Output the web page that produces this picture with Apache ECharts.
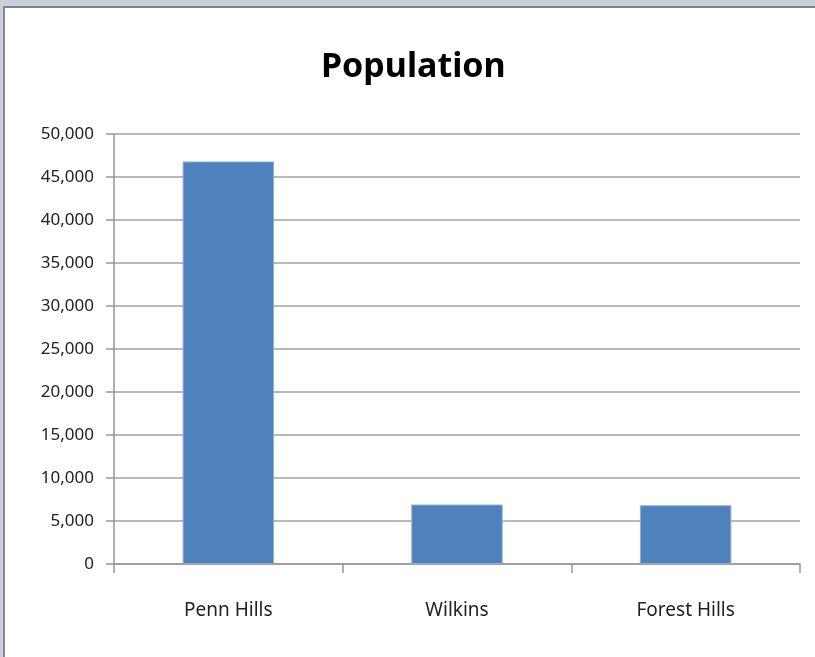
<!DOCTYPE html>
<html>
<head>
<meta charset="utf-8">
<script src="https://cdn.jsdelivr.net/npm/echarts@6/dist/echarts.min.js"></script>
<style>
html,body{margin:0;padding:0;background:#fff;}
#frameTop{position:absolute;left:0;top:0;width:815px;height:6px;background:#c5d0d8;}
#frameTopLine{position:absolute;left:3px;top:6px;width:812px;height:2px;background:#808080;}
#frameLeft{position:absolute;left:0;top:6px;width:3px;height:651px;background:#c5d0d8;}
#frameLeftLine{position:absolute;left:3px;top:6px;width:2px;height:651px;background:#8a8a8a;}
#chart{position:absolute;left:0;top:0;width:815px;height:657px;}
</style>
</head>
<body>
<div id="frameTop"></div><div id="frameTopLine"></div><div id="frameLeft"></div><div id="frameLeftLine"></div>
<div id="chart"></div>
<script>
const title = "Population";
const categories = ["Penn Hills", "Wilkins", "Forest Hills"];
const population = [46809, 6917, 6831];
const yTicks = { min: 0, max: 50000, interval: 5000 };

const chart = echarts.init(document.getElementById('chart'), null, {renderer: 'canvas'});
const font = '"Noto Sans", "Open Sans", sans-serif';
chart.setOption({
  animation: false,
  title: {
    text: title,
    left: 316,
    top: 45,
    textStyle: { fontFamily: font, fontSize: 34, fontWeight: 'bold', color: '#000' }
  },
  grid: { left: 114, right: 15, top: 134, bottom: 93, containLabel: false },
  xAxis: {
    type: 'category',
    data: categories,
    axisLine: { show: true, lineStyle: { color: '#969696', width: 1.5 } },
    axisTick: { show: true, length: 9, lineStyle: { color: '#969696', width: 1.5 } },
    axisLabel: { color: '#222', fontFamily: font, fontSize: 19, margin: 37 }
  },
  yAxis: {
    type: 'value',
    min: yTicks.min, max: yTicks.max, interval: yTicks.interval,
    axisLine: { show: true, lineStyle: { color: '#969696', width: 1.5 } },
    axisTick: { show: true, length: 8, lineStyle: { color: '#969696', width: 1.5 } },
    axisLabel: {
      color: '#222', fontFamily: font, fontSize: 17, margin: 20,
      formatter: v => v.toLocaleString('en-US')
    },
    splitLine: { show: true, lineStyle: { color: '#a0a0a0', width: 1.5 } }
  },
  series: [{
    type: 'bar',
    data: population,
    barWidth: '40%',
    itemStyle: { color: '#4f81bd', borderColor: '#8fb0d8', borderWidth: 1 }
  }]
});
</script>
</body>
</html>
